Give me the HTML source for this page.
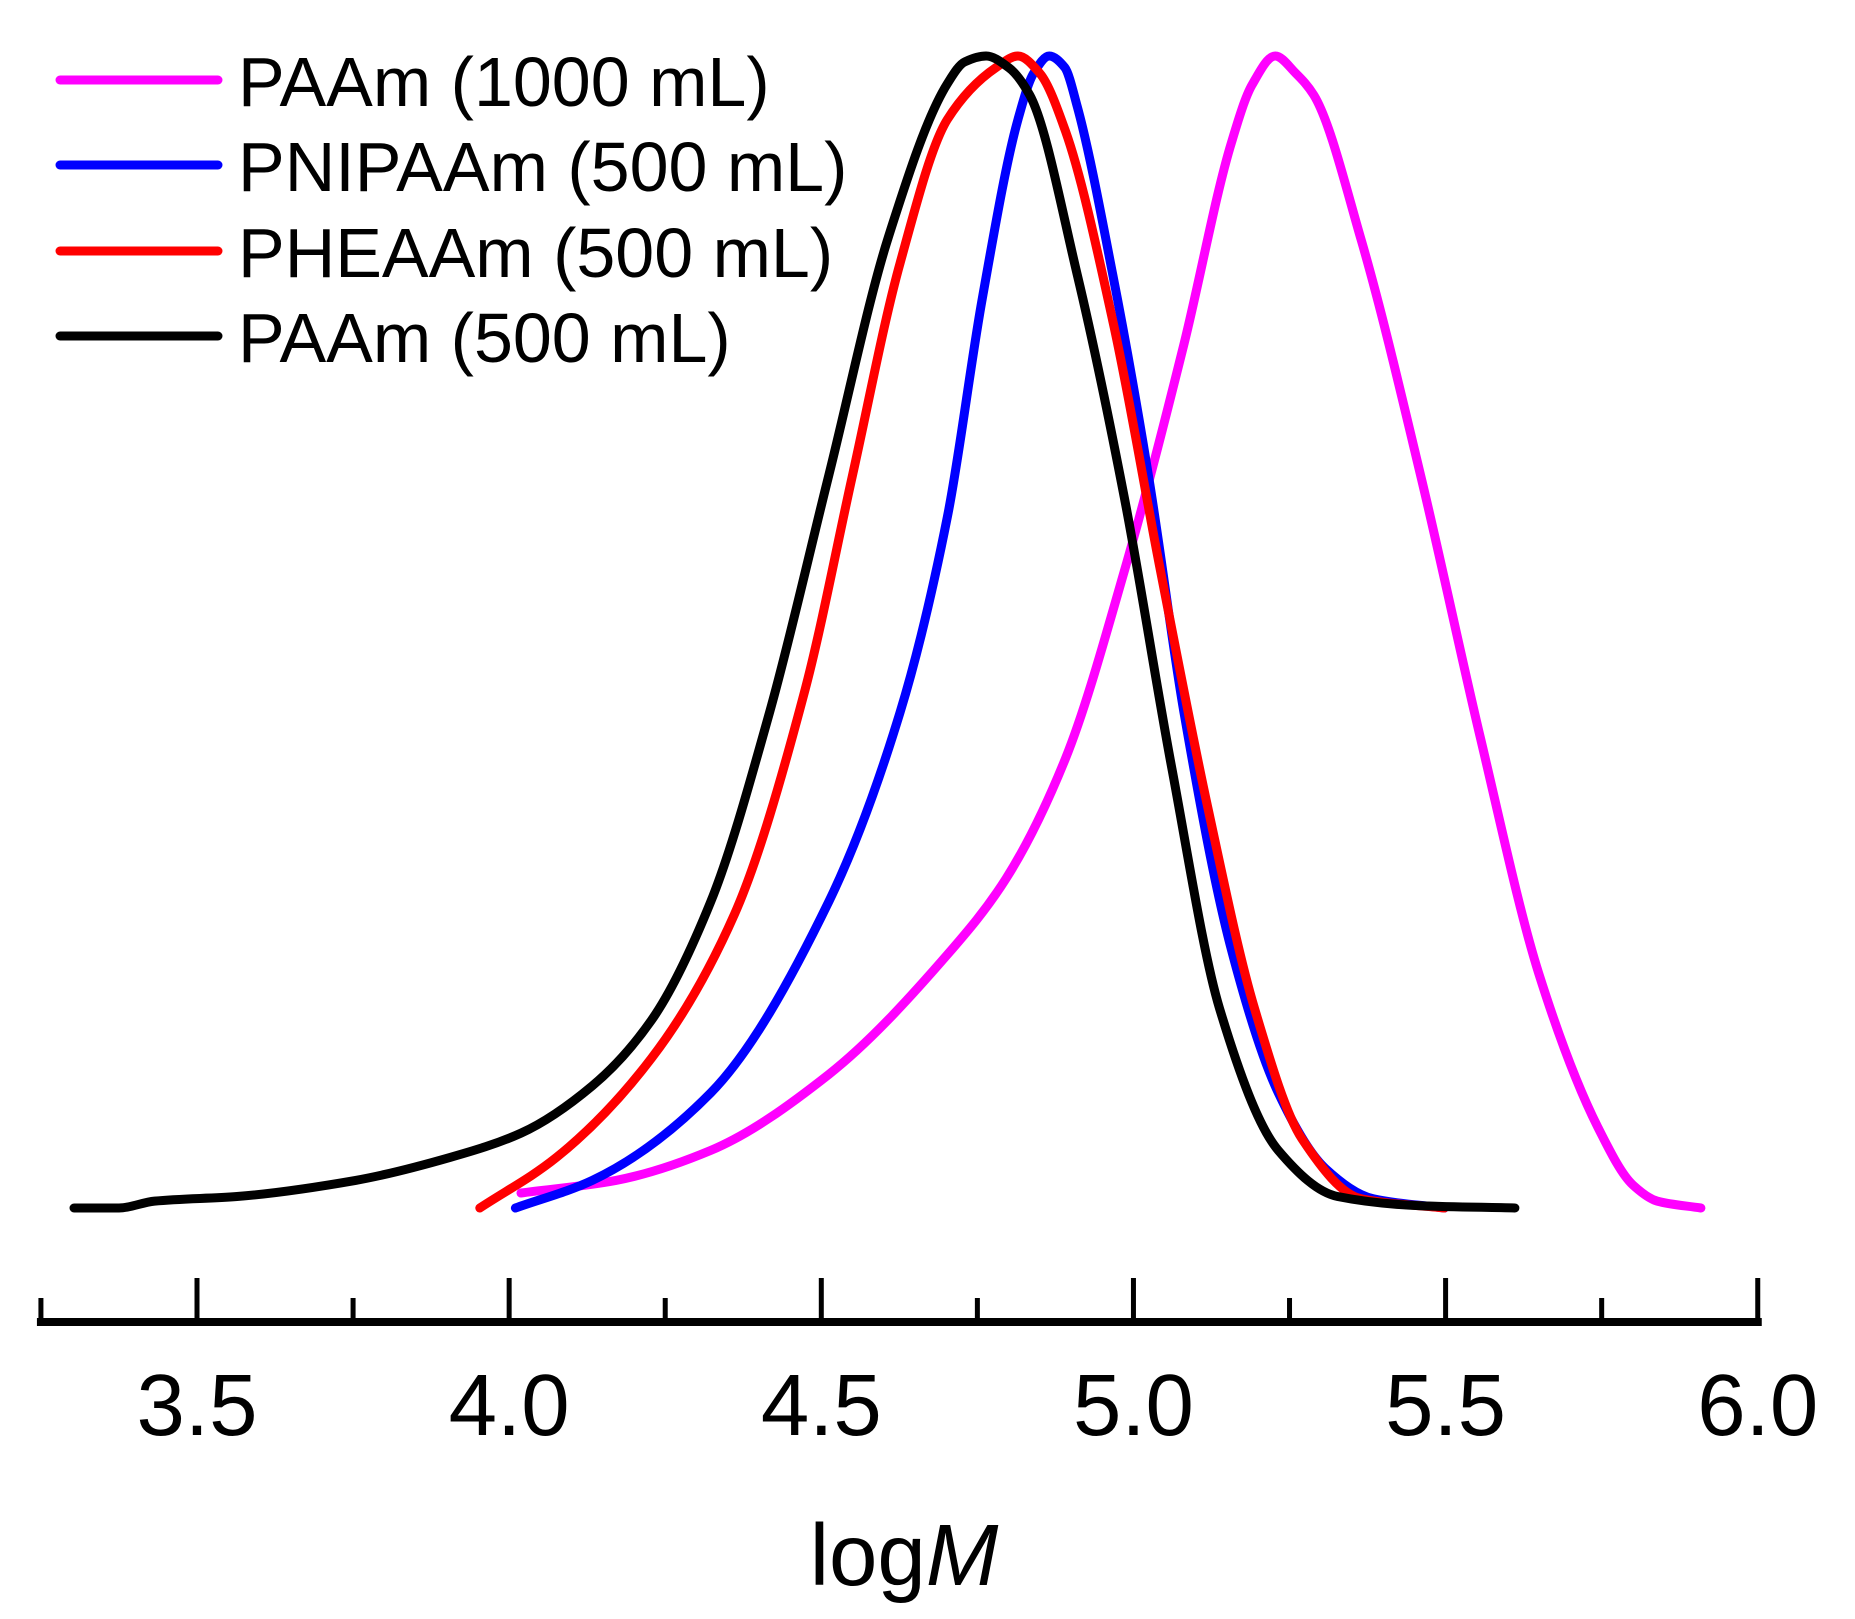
<!DOCTYPE html>
<html><head><meta charset="utf-8"><style>
html,body{margin:0;padding:0;background:#fff;}
svg{display:block;font-family:"Liberation Sans",sans-serif;}
</style></head><body>
<svg id="chart" width="1855" height="1619" viewBox="0 0 1855 1619" xmlns="http://www.w3.org/2000/svg">
<g id="axis"></g>
<g id="series"></g>
<g id="legend"></g>
<text x="904" y="1585" font-size="87" text-anchor="middle">log<tspan font-style="italic">M</tspan></text>
</svg>
<script>
const tickValues = [3.25,3.5,3.75,4.0,4.25,4.5,4.75,5.0,5.25,5.5,5.75,6.0];
const tickLabels = ["3.5","4.0","4.5","5.0","5.5","6.0"];
const labelValues = [3.5,4.0,4.5,5.0,5.5,6.0];
const seriesNames = ["PAAm (1000 mL)","PNIPAAm (500 mL)","PHEAAm (500 mL)","PAAm (500 mL)"];
const seriesColors = ["#ff00ff","#0000ff","#ff0000","#000000"];
const magX = [4.019,4.171,4.323,4.512,4.702,4.796,4.891,4.986,5.081,5.157,5.19,5.227,5.26,5.289,5.365,5.460,5.555,5.649,5.744,5.80,5.839,5.909];
const magY = [0.013,0.024,0.05,0.116,0.22,0.286,0.39,0.554,0.75,0.925,0.975,1,0.985,0.966,0.84,0.636,0.41,0.204,0.07,0.02,0.006,0];
const bluX = [4.010,4.133,4.323,4.512,4.626,4.702,4.758,4.815,4.84,4.865,4.89,4.910,4.967,5.024,5.081,5.157,5.232,5.308,5.384,5.498];
const bluY = [0,0.024,0.1,0.266,0.43,0.6,0.79,0.945,0.985,1,0.99,0.956,0.81,0.636,0.43,0.224,0.1,0.034,0.008,0];
const redX = [3.953,4.076,4.228,4.361,4.474,4.550,4.626,4.702,4.78,4.815,4.85,4.891,4.967,5.043,5.119,5.194,5.270,5.365,5.498];
const redY = [0,0.044,0.13,0.255,0.45,0.636,0.82,0.945,0.99,1,0.985,0.935,0.77,0.554,0.348,0.173,0.06,0.008,0];
const blkX = [3.303,3.375,3.432,3.564,3.754,3.906,4.019,4.133,4.228,4.323,4.417,4.512,4.607,4.702,4.73,4.764,4.80,4.834,4.910,4.986,5.062,5.138,5.232,5.327,5.460,5.611];
const blkY = [0,0,0.006,0.01,0.024,0.044,0.065,0.106,0.163,0.266,0.43,0.636,0.842,0.976,0.995,1,0.99,0.966,0.81,0.615,0.38,0.173,0.05,0.01,0.002,0];

const NS="http://www.w3.org/2000/svg";
function xs(v){return 197+(v-3.5)*624.3;}
function ys(h){return 1208-h*1152;}
function mk(tag,parent){const e=document.createElementNS(NS,tag);parent.appendChild(e);return e;}

const axis=document.getElementById('axis');
const base=mk('line',axis);


base.setAttribute('x1',xs(3.25)-4);base.setAttribute('x2',xs(6.0)+4);
base.setAttribute('y1',1322);base.setAttribute('y2',1322);
base.setAttribute('stroke','#000');base.setAttribute('stroke-width',8);
tickValues.forEach((v,i)=>{
  const major=(i%2===1);
  const t=mk('line',axis);
  
  
  t.setAttribute('x1',xs(v));t.setAttribute('x2',xs(v));
  t.setAttribute('y1',major?1278:1298);t.setAttribute('y2',1322);
  t.setAttribute('stroke','#000');t.setAttribute('stroke-width',5);
});
labelValues.forEach((v,i)=>{
  const t=mk('text',axis);
  
  
  t.setAttribute('x',xs(v));t.setAttribute('y',1435);
  t.setAttribute('font-size',87);t.setAttribute('text-anchor','middle');
  t.textContent=tickLabels[i];
});

function pathD(X,Y){
  const px=X.map(xs), py=Y.map(ys), n=px.length;
  const d=[],m=new Array(n);
  for(let i=0;i<n-1;i++) d.push((py[i+1]-py[i])/(px[i+1]-px[i]));
  m[0]=d[0]; m[n-1]=d[n-2];
  for(let i=1;i<n-1;i++){
    if(d[i-1]*d[i]<=0) m[i]=0;
    else { const w1=2*(px[i+1]-px[i])+(px[i]-px[i-1]), w2=(px[i+1]-px[i])+2*(px[i]-px[i-1]);
      m[i]=(w1+w2)/(w1/d[i-1]+w2/d[i]); }
  }
  let s='M'+px[0].toFixed(1)+','+py[0].toFixed(1);
  for(let i=0;i<n-1;i++){
    const h=(px[i+1]-px[i])/3;
    s+=' C'+(px[i]+h).toFixed(1)+','+(py[i]+m[i]*h).toFixed(1)+' '+(px[i+1]-h).toFixed(1)+','+(py[i+1]-m[i+1]*h).toFixed(1)+' '+px[i+1].toFixed(1)+','+py[i+1].toFixed(1);
  }
  return s;
}
const series=document.getElementById('series');
const allX=[magX,bluX,redX,blkX], allY=[magY,bluY,redY,blkY];
const ids=['series-paam-1000','series-pnipaam-500','series-pheaam-500','series-paam-500'];
for(let s=0;s<4;s++){
  const p=mk('path',series);
  
  
  p.setAttribute('d',pathD(allX[s],allY[s]));
  p.setAttribute('fill','none');p.setAttribute('stroke',seriesColors[s]);
  p.setAttribute('stroke-width',9);p.setAttribute('stroke-linecap','round');p.setAttribute('stroke-linejoin','round');
}
const legend=document.getElementById('legend');
const ly=[80,165,251,336];
for(let s=0;s<4;s++){
  const l=mk('line',legend);
  
  
  l.setAttribute('x1',60);l.setAttribute('x2',218);l.setAttribute('y1',ly[s]);l.setAttribute('y2',ly[s]);
  l.setAttribute('stroke',seriesColors[s]);l.setAttribute('stroke-width',9);l.setAttribute('stroke-linecap','round');
  const t=mk('text',legend);
  
  
  t.setAttribute('x',238);t.setAttribute('y',ly[s]+26);t.setAttribute('font-size',70);
  t.textContent=seriesNames[s];
}
</script>
</body></html>
